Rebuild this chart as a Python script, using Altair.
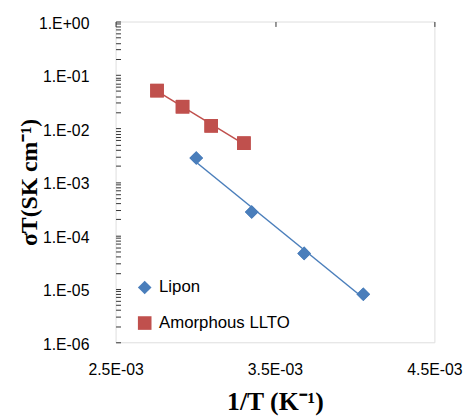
import altair as alt
import pandas as pd

lipon_x = [3.006e-3, 3.354e-3, 3.683e-3, 4.054e-3]
lipon_y = [2.8e-3, 2.74e-4, 4.6e-5, 7.9e-6]
llto_x = [2.76e-3, 2.92e-3, 3.10e-3, 3.305e-3]
llto_y = [5.1e-2, 2.55e-2, 1.12e-2, 5.3e-3]
series = ["Lipon", "Amorphous LLTO"]
colors = ["#4A7EBB", "#C0504D"]
shapes = ["diamond", "square"]

y_ticks = [k * 10.0 ** e for e in range(-6, 0) for k in range(1, 10)] + [1.0]
x_ticks = [2.5e-3, 3.5e-3, 4.5e-3]

df = pd.DataFrame({
    "x": lipon_x + llto_x,
    "y": lipon_y + llto_y,
    "series": [series[0]] * len(lipon_x) + [series[1]] * len(llto_x),
})

W, H = 323, 325
xdom = [2.5e-3, 4.5e-3]
ydom = [1e-6, 1.0]
lab_font = "Liberation Sans"
tit_font = "Liberation Serif"
frame = "#333333"

x_scale = alt.Scale(domain=xdom, nice=False, zero=False)
y_scale = alt.Scale(type="log", domain=ydom, nice=False)

color_enc = alt.Color(
    "series:N",
    scale=alt.Scale(domain=series, range=colors),
    legend=alt.Legend(
        title=None, orient="none", legendX=21, legendY=261,
        labelFont=lab_font, labelFontSize=17, labelColor="#000000",
        symbolSize=190, symbolOpacity=1, symbolStrokeWidth=0,
        rowPadding=18, labelOffset=6,
    ),
)
shape_enc = alt.Shape("series:N", scale=alt.Scale(domain=series, range=shapes))

x_main = alt.X(
    "x:Q",
    scale=x_scale,
    axis=alt.Axis(
        values=x_ticks, ticks=False, domain=False,
        grid=True, gridDash=[5, 2000], gridColor=frame, gridWidth=1, gridOpacity=1,
        labelExpr="format(datum.value*1000, '.1f') + 'E-03'",
        labelFont=lab_font, labelFontSize=16, labelColor="#000000",
        labelPadding=20, labelFlush=False, labelOverlap=False,
        title="1/T (K\u207b\u00b9)", titleFont=tit_font, titleFontSize=26,
        titleFontWeight="bold", titleColor="#000000", titlePadding=11,
    ),
)
y_main = alt.Y(
    "y:Q",
    scale=y_scale,
    axis=alt.Axis(
        values=y_ticks, ticks=False, domain=False,
        grid=True, gridDash=[5, 2000], gridColor=frame, gridWidth=1, gridOpacity=1,
        labelExpr=(
            "abs(log(datum.value)/LN10 - round(log(datum.value)/LN10)) < 1e-6 ? "
            "('1.E' + (datum.value >= 1 ? '+00' : '-0' + round(-log(datum.value)/LN10))) : ''"
        ),
        labelFont=lab_font, labelFontSize=16, labelColor="#000000",
        labelPadding=27, labelOffset=2, labelFlush=False, labelOverlap=False,
        title="\u03c3T(SK cm\u207b\u00b9)", titleFont=tit_font, titleFontSize=24,
        titleFontWeight="bold", titleColor="#000000", titlePadding=-3,
    ),
)

base = alt.Chart(df)


def trend(name, col):
    return base.transform_filter(
        alt.datum.series == name
    ).transform_calculate(
        ly="log(datum.y)/LN10"
    ).transform_regression(
        "x", "ly", method="linear"
    ).transform_calculate(
        y="pow(10, datum.ly)"
    ).mark_line(strokeWidth=1.5, color=col).encode(
        x=alt.X("x:Q", scale=x_scale),
        y=alt.Y("y:Q", scale=y_scale),
    )


points = base.mark_point(filled=True, opacity=1, size=190).encode(
    x=x_main, y=y_main, color=color_enc, shape=shape_enc,
)

chart = alt.layer(
    points, trend(series[0], colors[0]), trend(series[1], colors[1]), points,
).properties(
    width=W, height=H,
    autosize=alt.AutoSizeParams(type="none"),
    padding={"left": 109, "top": 11, "right": 30, "bottom": 73},
).configure_view(stroke=frame, strokeWidth=1.2).configure(background="white")

chart.save("out.html", embed_options={"renderer": "svg", "actions": False})
